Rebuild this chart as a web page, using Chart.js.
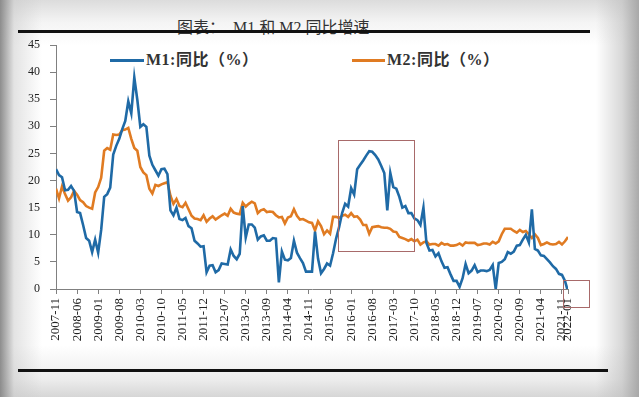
<!DOCTYPE html>
<html>
<head>
<meta charset="utf-8">
<script src="https://cdn.jsdelivr.net/npm/chart.js@4.4.1/dist/chart.umd.min.js"></script>
<style>
html, body { margin: 0; padding: 0; }
body {
  width: 639px; height: 397px; overflow: hidden; position: relative;
  background:
    linear-gradient(to right, rgba(135,135,135,0.95) 0px, rgba(200,200,200,0.5) 14px, rgba(255,255,255,0) 42px,
      rgba(255,255,255,0) 596px, rgba(190,190,190,0.6) 622px, rgba(165,165,165,0.95) 639px),
    linear-gradient(to bottom, #dcdcdc 0px, #f4f4f4 22px, #fff 45px, #fff 345px, #ececec 380px, #d6d6d6 397px);
  font-family: "Liberation Serif", "Noto Sans CJK SC", serif;
}
#chart { position: absolute; left: 0; top: 0; }
.rule { position: absolute; background: #111; }
#title { position: absolute; left: 177px; top: 14px; font-size: 16px; color: #333; white-space: pre; }
.key { position: absolute; top: 59px; height: 3px; }
.keytext { position: absolute; top: 50px; font-size: 16px; font-weight: bold; color: #333; white-space: pre; line-height: 20px; letter-spacing: 0.5px; }
</style>
</head>
<body>
<div id="title">图表：  M1 和 M2 同比增速</div>
<div class="rule" style="left:18px;top:30px;width:572px;height:3px"></div>
<div class="rule" style="left:18px;top:369px;width:590px;height:3px"></div>
<div class="key" style="left:110px;width:34px;background:#1f6aa6"></div>
<div class="keytext" style="left:146px">M1:同比（%）</div>
<div class="key" style="left:352px;width:33px;background:#e07b22"></div>
<div class="keytext" style="left:387px">M2:同比（%）</div>
<canvas id="chart" width="639" height="397"></canvas>
<script>
// monthly categories 2007-11 .. 2022-01
const months = [];
for (let y = 2007, m = 11; ; m++) {
  if (m > 12) { m = 1; y++; }
  const s = y + '-' + String(m).padStart(2, '0');
  months.push(s);
  if (s === '2022-01') break;
}

const tickLabels = ['2007-11','2008-06','2009-01','2009-08','2010-03','2010-10','2011-05','2011-12',
  '2012-07','2013-02','2013-09','2014-04','2014-11','2015-06','2016-01','2016-08','2017-03','2017-10',
  '2018-05','2018-12','2019-07','2020-02','2020-09','2021-04','2021-11','2022-01'];

// M1 year-on-year, %
const m1 = [
  22.1, 21.0,
  20.6, 18.2, 18.3, 19.0, 18.1, 14.2, 14.0, 11.8, 9.4, 8.9, 6.8, 9.1,
  6.7, 10.9, 17.0, 17.5, 18.7, 24.8, 26.4, 27.7, 29.5, 31.0, 34.6, 32.4,
  39.0, 34.9, 29.9, 30.4, 29.9, 24.6, 22.9, 21.9, 20.9, 22.1, 22.2, 21.2,
  14.5, 13.6, 15.0, 12.9, 12.7, 13.1, 11.6, 11.2, 8.9, 8.4, 7.8, 7.9,
  3.1, 4.3, 4.4, 3.1, 3.5, 4.7, 4.6, 4.5, 7.3, 6.1, 5.5, 6.5,
  15.3, 9.5, 11.9, 11.9, 11.3, 9.1, 9.7, 9.9, 8.9, 8.9, 9.4, 9.3,
  1.2, 6.9, 5.4, 5.3, 5.7, 8.9, 6.7, 5.7, 4.8, 3.2, 3.2, 3.2,
  10.6, 5.6, 2.9, 3.7, 4.7, 4.3, 6.6, 9.3, 11.4, 14.0, 15.7, 15.2,
  18.6, 17.4, 22.1, 22.9, 23.7, 24.6, 25.4, 25.3, 24.7, 23.9, 22.7, 21.4,
  14.5, 21.4, 18.8, 18.5, 17.0, 15.0, 15.3, 14.0, 14.0, 13.0, 12.7, 11.8,
  15.0, 8.5, 7.1, 7.2, 6.0, 6.6, 5.1, 3.9, 4.0, 2.7, 1.5, 1.5,
  0.4, 2.0, 4.6, 2.9, 3.4, 4.4, 3.1, 3.4, 3.4, 3.3, 3.5, 4.4,
  0.0, 4.8, 5.0, 5.5, 6.8, 6.5, 6.9, 8.0, 8.1, 9.1, 10.0, 8.6,
  14.7, 7.4, 7.1, 6.2, 6.1, 5.5, 4.9, 4.2, 3.7, 2.8, 2.6, 1.5,
  -0.5
];

// M2 year-on-year, %
const m2 = [
  18.5, 16.7,
  18.9, 17.5, 16.3, 16.9, 18.1, 17.4, 16.4, 16.0, 15.3, 15.0, 14.8, 17.8,
  18.8, 20.5, 25.5, 26.0, 25.7, 28.5, 28.4, 28.5, 29.3, 29.4, 29.7, 27.7,
  26.0, 25.5, 22.5, 21.5, 21.0, 18.5, 17.6, 19.2, 19.0, 19.3, 19.5, 19.7,
  17.2, 15.7, 16.6, 15.3, 15.1, 15.9, 14.7, 13.5, 13.0, 12.9, 12.7, 13.6,
  12.4, 13.0, 13.4, 12.8, 13.2, 13.6, 13.9, 13.5, 14.8, 14.1, 13.9, 13.8,
  15.9, 15.2, 15.7, 16.1, 15.8, 14.0, 14.5, 14.7, 14.2, 14.3, 14.2, 13.6,
  13.2, 13.3, 12.1, 13.2, 13.4, 14.7, 13.5, 12.8, 12.9, 12.6, 12.3, 12.2,
  10.8, 12.5, 11.6, 10.1, 10.8, 10.2, 13.3, 13.3, 13.1, 13.5, 13.7, 13.3,
  14.0, 13.3, 13.4, 12.8, 11.8, 11.8, 10.2, 11.4, 11.5, 11.6, 11.4, 11.3,
  11.3, 11.1, 10.6, 10.5, 9.6, 9.4, 9.2, 8.9, 9.2, 8.8, 9.1, 8.2,
  8.6, 8.8, 8.2, 8.3, 8.3, 8.0, 8.5, 8.2, 8.3, 8.0, 8.0, 8.1,
  8.4, 8.0, 8.6, 8.5, 8.5, 8.5, 8.1, 8.2, 8.4, 8.4, 8.2, 8.7,
  8.4, 8.8, 10.1, 11.1, 11.1, 11.1, 10.7, 10.4, 10.9, 10.5, 10.7, 10.1,
  9.4, 10.1, 9.4, 8.1, 8.3, 8.6, 8.3, 8.2, 8.3, 8.7, 8.2, 8.8,
  9.6
];

// highlight boxes, in month index / percent units
const boxes = [
  { x0: 93.7, x1: 118.9, y0: 27.5, y1: 7.0 },
  { x0: 168.5, x1: 177, y0: 1.7, y1: -3.3 }
];

const boxPlugin = {
  id: 'boxes',
  afterDatasetsDraw(chart) {
    const { ctx, scales: { x, y } } = chart;
    ctx.save();
    ctx.strokeStyle = '#a86a6a';
    ctx.lineWidth = 1;
    boxes.forEach(b => {
      const l = x.getPixelForValue(b.x0), r = x.getPixelForValue(b.x1);
      const t = y.getPixelForValue(b.y0), btm = y.getPixelForValue(b.y1);
      ctx.strokeRect(Math.round(l) + 0.5, Math.round(t) + 0.5, Math.round(r - l), Math.round(btm - t));
    });
    ctx.restore();
  }
};

new Chart(document.getElementById('chart'), {
  type: 'line',
  data: {
    datasets: [
      { label: 'M1:同比（%）', data: m1.map((v, i) => ({ x: i, y: v })), borderColor: '#1f6aa6',
        borderWidth: 2.6, pointRadius: 0, tension: 0 },
      { label: 'M2:同比（%）', data: m2.map((v, i) => ({ x: i, y: v })), borderColor: '#e07b22',
        borderWidth: 2.6, pointRadius: 0, tension: 0 }
    ]
  },
  options: {
    responsive: false,
    animation: false,
    layout: { padding: { top: 45, right: 71, bottom: 0, left: 0 } },
    plugins: { legend: { display: false }, tooltip: { enabled: false } },
    scales: {
      x: {
        type: 'linear', min: 0, max: months.length - 1,
        afterBuildTicks: s => { s.ticks = tickLabels.map(l => ({ value: months.indexOf(l) })); },
        afterFit: s => { s.height = 108; },
        ticks: { autoSkip: false, minRotation: 90, maxRotation: 90, padding: 4, color: '#222',
          font: { family: 'Liberation Serif', size: 13 }, callback: v => months[v] },
        grid: { drawOnChartArea: false, tickLength: 5, color: '#808080' },
        border: { color: '#808080' }
      },
      y: {
        min: 0, max: 45,
        afterFit: s => { s.width = 56; },
        ticks: { stepSize: 5, padding: 10, color: '#222', font: { family: 'Liberation Serif', size: 12 } },
        grid: { drawOnChartArea: false, tickLength: 6, color: '#808080' },
        border: { color: '#808080' }
      }
    }
  },
  plugins: [boxPlugin]
});
</script>
</body>
</html>
